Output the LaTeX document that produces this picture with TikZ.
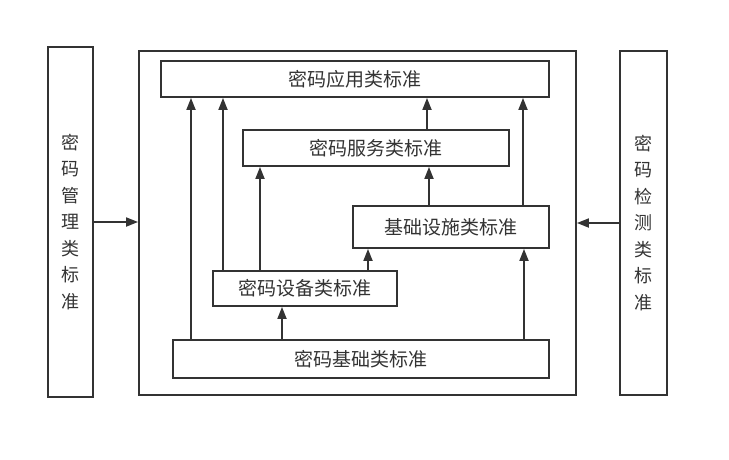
\documentclass[tikz,border=0pt]{standalone}
\usepackage{fontspec}
\setmainfont{Noto Sans CJK SC}
\usetikzlibrary{arrows.meta}
\definecolor{ln}{HTML}{333333}
\begin{document}
\begin{tikzpicture}[x=1pt,y=-1pt,
  box/.style={draw=ln, line width=1.8pt, inner sep=0pt, text=ln,
    font=\fontsize{19}{21}\selectfont},
  vbox/.style={draw=ln, line width=1.6pt, inner sep=0pt, text=ln, align=center,
    font=\fontsize{18}{26.5}\selectfont},
  arr/.style={draw=ln, line width=1.8pt, -{Triangle[length=12pt,width=9pt]}},
  ln/.style={draw=ln, line width=1.8pt}]
\useasboundingbox (0,0) rectangle (729,459);
% outer frame and side boxes
\node[box, minimum width=437pt, minimum height=344pt] (outer) at (357.5,223) {};
\node[vbox, minimum width=45pt, minimum height=350pt] (mgmt) at (70.5,222) {密\\码\\管\\理\\类\\标\\准};
\node[vbox, minimum width=47pt, minimum height=344pt] (test) at (643.5,223) {密\\码\\检\\测\\类\\标\\准};
% inner boxes
\node[box, minimum width=388pt, minimum height=36pt] (app) at (355,79) {密码应用类标准};
\node[box, minimum width=266pt, minimum height=36pt] (svc) at (376,148) {密码服务类标准};
\node[box, minimum width=196pt, minimum height=42pt] (infra) at (451,227) {基础设施类标准};
\node[box, minimum width=184pt, minimum height=35pt] (dev) at (305,288.5) {密码设备类标准};
\node[box, minimum width=376pt, minimum height=38pt] (base) at (361,359) {密码基础类标准};
% x positions of the connectors
\coordinate (xa) at (191,0);
\coordinate (xb) at (223,0);
\coordinate (xc) at (260,0);
\coordinate (xd) at (427,0);
\coordinate (xe) at (429,0);
\coordinate (xf) at (523,0);
\coordinate (xg) at (282,0);
\coordinate (xh) at (368,0);
\coordinate (xi) at (524,0);
% vertical connectors
\draw[arr] (base.north -| xa) -- (app.south -| xa);
\draw[arr] (dev.north -| xb) -- (app.south -| xb);
\draw[arr] (dev.north -| xc) -- (svc.south -| xc);
\draw[arr] (svc.north -| xd) -- (app.south -| xd);
\draw[arr] (infra.north -| xe) -- (svc.south -| xe);
\draw[arr] (infra.north -| xf) -- (app.south -| xf);
\draw[arr] (base.north -| xg) -- (dev.south -| xg);
\draw[arr] (dev.north -| xh) -- (infra.south -| xh);
\draw[arr] (base.north -| xi) -- (infra.south -| xi);
% side connectors
\draw[arr] (mgmt.east) -- (mgmt.east -| outer.west);
\draw[arr] (test.west) -- (test.west -| outer.east);
\end{tikzpicture}
\end{document}
